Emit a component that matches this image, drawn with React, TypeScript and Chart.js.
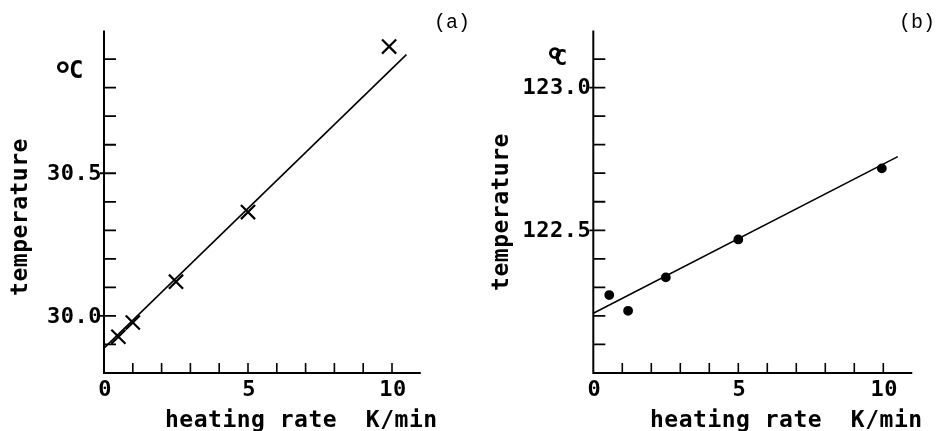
import React, { useEffect, useRef } from "react";
import { Chart, registerables } from "chart.js";

Chart.register(...registerables);

// ---- data (a) ----
const rateA = [0.5, 1.0, 2.5, 5.0, 9.9];
const tempA = [29.927, 29.977, 30.12, 30.364, 30.944];
const fitRateA = [0, 10.5];
const fitTempA = [29.887, 30.916];
const yTicksA = [29.9, 30.0, 30.1, 30.2, 30.3, 30.4, 30.5, 30.6, 30.7, 30.8, 30.9];
const yLabelsA = ["30.0", "30.5"];

// ---- data (b) ----
const rateB = [0.55, 1.2, 2.5, 5.0, 9.95];
const tempB = [122.273, 122.218, 122.335, 122.468, 122.717];
const fitRateB = [0, 10.5];
const fitTempB = [122.209, 122.758];
const yTicksB = [122.1, 122.2, 122.3, 122.4, 122.5, 122.6, 122.7, 122.8, 122.9, 123.0, 123.1];
const yLabelsB = ["122.5", "123.0"];

const xTicks = [1, 2, 3, 4, 5, 6, 7, 8, 9, 10];
const xLabels = ["0", "5", "10"];

const FONT = "'DejaVu Sans Mono', monospace";

type PanelCfg = {
  id: string;
  width: number;
  left: number;
  right: number;
  top: number;
  bottom: number;
  yMin: number;
  yMax: number;
  rate: number[];
  temp: number[];
  fitRate: number[];
  fitTemp: number[];
  yTicks: number[];
  yLabels: string[];
  pointStyle: string;
  pointRadius: number;
  tag: string;
  tagX: number;
  titleYX: number;
  titleYY: number;
  titleXX: number;
  degX: number;
  degY: number;
  cX: number;
  cY: number;
  cSize: number;
};

function makeOverlay(cfg: PanelCfg) {
  return {
    id: "overlay_" + cfg.id,
    afterDraw(chart: any) {
      const ctx: CanvasRenderingContext2D = chart.ctx;
      const xs = chart.scales.x;
      const ys = chart.scales.y;
      const x0 = xs.getPixelForValue(0);
      const xEnd = xs.getPixelForValue(11);
      const yBot = ys.getPixelForValue(cfg.yMin);
      const yTop = ys.getPixelForValue(cfg.yMax);
      ctx.save();
      ctx.strokeStyle = "#000";
      ctx.fillStyle = "#000";
      ctx.lineCap = "butt";
      // axes
      ctx.lineWidth = 2;
      ctx.beginPath();
      ctx.moveTo(x0, yTop);
      ctx.lineTo(x0, yBot);
      ctx.lineTo(xEnd, yBot);
      ctx.stroke();
      // x ticks (inward)
      ctx.lineWidth = 1.6;
      ctx.beginPath();
      for (const t of xTicks) {
        const px = xs.getPixelForValue(t);
        ctx.moveTo(px, yBot);
        ctx.lineTo(px, yBot - 10);
      }
      ctx.stroke();
      // y ticks (inward, labelled ones cross the axis)
      ctx.lineWidth = 1.8;
      ctx.beginPath();
      for (const t of cfg.yTicks) {
        const py = ys.getPixelForValue(t);
        const major = cfg.yLabels.includes(t.toFixed(1));
        ctx.moveTo(x0 - (major ? 4 : 0), py);
        ctx.lineTo(x0 + 12, py);
      }
      ctx.stroke();
      // tick labels
      (ctx as any).letterSpacing = "0.5px";
      ctx.font = `bold 22px ${FONT}`;
      ctx.textBaseline = "middle";
      ctx.textAlign = "right";
      for (const lab of cfg.yLabels) {
        const py = ys.getPixelForValue(parseFloat(lab));
        ctx.fillText(lab, x0 - 2, py + 1);
      }
      ctx.textAlign = "center";
      for (const lab of xLabels) {
        const px = xs.getPixelForValue(parseFloat(lab));
        ctx.fillText(lab, px + 1, yBot + 17);
      }
      // axis titles
      (ctx as any).letterSpacing = "0.5px";
      ctx.font = `bold 23px ${FONT}`;
      ctx.textBaseline = "alphabetic";
      ctx.textAlign = "left";
      ctx.fillText("heating rate  K/min", cfg.titleXX, 427);
      ctx.save();
      ctx.translate(cfg.titleYX, cfg.titleYY);
      ctx.rotate(-Math.PI / 2);
      ctx.textAlign = "center";
      ctx.fillText("temperature", 0, 0);
      ctx.restore();
      // unit
      (ctx as any).letterSpacing = "0px";
      ctx.font = `bold 36px ${FONT}`;
      ctx.textAlign = "left";
      ctx.fillText("°", cfg.degX, cfg.degY);
      ctx.font = `bold ${cfg.cSize}px ${FONT}`;
      ctx.fillText("C", cfg.cX, cfg.cY);
      // panel tag
      ctx.font = `20px 'Liberation Mono', 'Courier New', monospace`;
      ctx.fillText(cfg.tag, cfg.tagX, 28);
      ctx.restore();
    },
  };
}

function Panel({ cfg }: { cfg: PanelCfg }) {
  const ref = useRef<HTMLCanvasElement>(null);
  useEffect(() => {
    if (!ref.current) return;
    const chart = new Chart(ref.current, {
      type: "scatter",
      data: {
        datasets: [
          {
            label: "fit",
            data: cfg.fitRate.map((r, i) => ({ x: r, y: cfg.fitTemp[i] })),
            showLine: true,
            borderColor: "#000",
            borderWidth: 1.6,
            pointRadius: 0,
          },
          {
            label: "measured",
            data: cfg.rate.map((r, i) => ({ x: r, y: cfg.temp[i] })),
            pointStyle: cfg.pointStyle as any,
            pointRadius: cfg.pointRadius,
            borderColor: "#000",
            backgroundColor: "#000",
            borderWidth: 2.2,
          },
        ],
      },
      options: {
        animation: false,
        responsive: false,
        devicePixelRatio: 1,
        layout: {
          padding: { left: 0, top: cfg.top, right: cfg.width - cfg.right, bottom: 0 },
        },
        plugins: { legend: { display: false }, tooltip: { enabled: false } },
        scales: {
          x: {
            type: "linear",
            min: 0,
            max: 11,
            grid: { display: false },
            border: { display: false },
            ticks: { display: false },
            afterFit: (s: any) => {
              s.height = 431 - cfg.bottom;
            },
          },
          y: {
            type: "linear",
            min: cfg.yMin,
            max: cfg.yMax,
            grid: { display: false },
            border: { display: false },
            ticks: { display: false },
            afterFit: (s: any) => {
              s.width = cfg.left;
            },
          },
        },
      },
      plugins: [makeOverlay(cfg)],
    });
    return () => chart.destroy();
  }, [cfg]);
  return <canvas ref={ref} width={cfg.width} height={431} style={{ width: cfg.width, height: 431, display: "block" }} />;
}

const cfgA: PanelCfg = {
  id: "a",
  width: 480,
  left: 104,
  right: 420.8,
  top: 30.6,
  bottom: 373,
  yMin: 29.8,
  yMax: 31.0,
  rate: rateA,
  temp: tempA,
  fitRate: fitRateA,
  fitTemp: fitTempA,
  yTicks: yTicksA,
  yLabels: yLabelsA,
  pointStyle: "crossRot",
  pointRadius: 10,
  tag: "(a)",
  tagX: 434,
  titleYX: 27,
  titleYY: 217,
  titleXX: 165,
  degX: 52,
  degY: 88,
  cX: 69,
  cY: 78,
  cSize: 24,
};

const cfgB: PanelCfg = {
  id: "b",
  width: 461,
  left: 113.3,
  right: 432.3,
  top: 30.5,
  bottom: 373,
  yMin: 122.0,
  yMax: 123.2,
  rate: rateB,
  temp: tempB,
  fitRate: fitRateB,
  fitTemp: fitTempB,
  yTicks: yTicksB,
  yLabels: yLabelsB,
  pointStyle: "circle",
  pointRadius: 3.8,
  tag: "(b)",
  tagX: 419,
  titleYX: 28,
  titleYY: 212,
  titleXX: 170,
  degX: 64,
  degY: 74,
  cX: 74,
  cY: 65,
  cSize: 22,
};

export default function App() {
  return (
    <div style={{ position: "fixed", left: 0, top: 0, width: 941, height: 431, background: "#fff", display: "flex" }}>
      <Panel cfg={cfgA} />
      <Panel cfg={cfgB} />
    </div>
  );
}
